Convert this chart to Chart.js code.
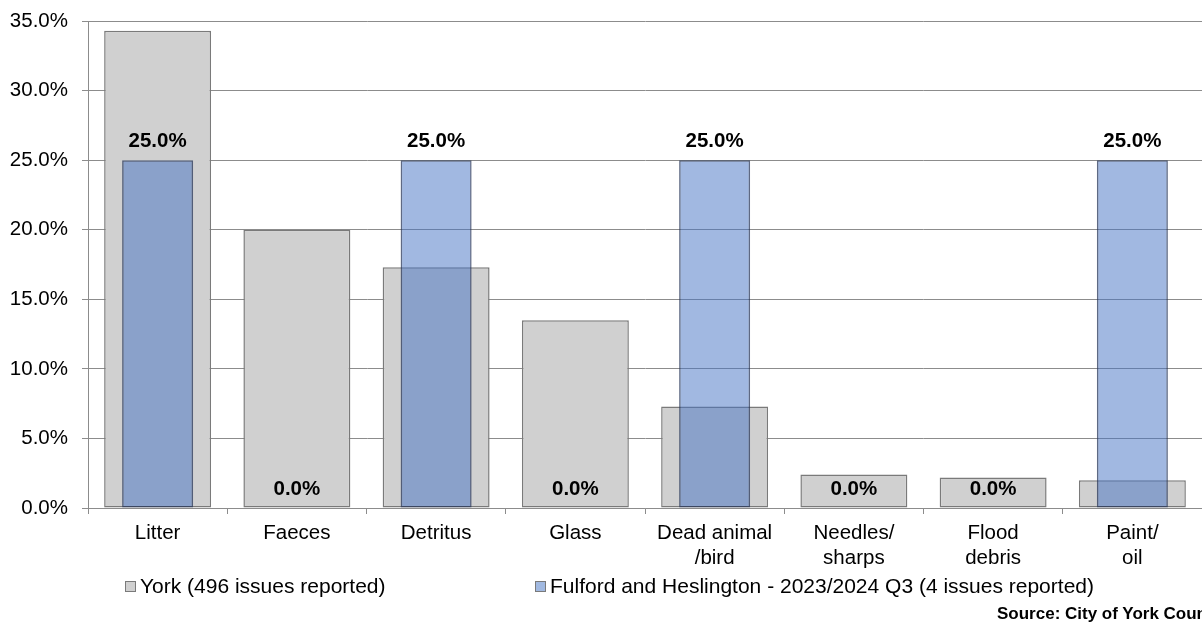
<!DOCTYPE html>
<html>
<head>
<meta charset="utf-8">
<script src="https://cdn.jsdelivr.net/npm/chart.js@4/dist/chart.umd.min.js"></script>
<style>
  html, body { margin: 0; padding: 0; background: #fff; overflow: hidden; }
  #wrap { position: relative; width: 1202px; height: 622px; overflow: hidden;
          font-family: "Liberation Sans", Arial, sans-serif; color: #000; }
  #chart { position: absolute; left: 0; top: 0; }
  .leg { position: absolute; top: 574px; font-size: 21px; line-height: 24px; white-space: nowrap; }
  .leg i { position: absolute; left: -15px; top: 7px; width: 9px; height: 9px; border: 1px solid #7a7a7a; }
  #source { position: absolute; left: 997px; top: 604px; font-size: 17px; font-weight: bold; white-space: nowrap; }
</style>
</head>
<body>
<div id="wrap">
  <canvas id="chart" width="1202" height="622"></canvas>
  <div class="leg" id="leg-york" style="left:140px"><i style="background:#d0d0d0"></i></div>
  <div class="leg" id="leg-area" style="left:550px"><i style="background:#a1b9e1"></i></div>
  <div id="source">Source: City of York Council</div>
</div>
<script>
// ── Data ──────────────────────────────────────────────────────────
const CATEGORIES = [
  "Litter", "Faeces", "Detritus", "Glass",
  ["Dead animal", "/bird"], ["Needles/", "sharps"], ["Flood", "debris"], ["Paint/", "oil"],
];
const YORK_LABEL = "York (496 issues reported)";
const AREA_LABEL = "Fulford and Heslington - 2023/2024 Q3 (4 issues reported)";
const YORK_VALUES = [34.3, 20.0, 17.3, 13.5, 7.3, 2.4, 2.2, 2.0];
const AREA_VALUES = [25.0, 0.0, 25.0, 0.0, 25.0, 0.0, 0.0, 25.0];
const Y_TICKS = [0, 5, 10, 15, 20, 25, 30, 35];

const FONT = '"Liberation Sans", Arial, sans-serif';
const GRID = "#8c8c8c";

document.getElementById("leg-york").append(YORK_LABEL);
document.getElementById("leg-area").append(AREA_LABEL);

// ── Value labels above the area bars ──────────────────────────────
const valueLabels = {
  id: "valueLabels",
  afterDraw(chart) {
    const { ctx } = chart;
    const meta = chart.getDatasetMeta(1);
    ctx.save();
    ctx.font = `bold 20.5px ${FONT}`;
    ctx.fillStyle = "#000";
    ctx.textAlign = "center";
    ctx.textBaseline = "middle";
    meta.data.forEach((bar, i) => {
      ctx.fillText(AREA_VALUES[i].toFixed(1) + "%", bar.x, bar.y - 19);
    });
    ctx.restore();
  },
};

// ── Chart ─────────────────────────────────────────────────────────
new Chart(document.getElementById("chart"), {
  type: "bar",
  data: {
    labels: CATEGORIES,
    datasets: [
      {
        label: YORK_LABEL,
        data: YORK_VALUES,
        backgroundColor: "#d0d0d0",
        borderColor: "#7a7a7a",
        borderWidth: 1.5,
        borderSkipped: false,
        grouped: false,
        categoryPercentage: 1,
        barPercentage: 0.768,
        order: 2,
      },
      {
        label: AREA_LABEL,
        data: AREA_VALUES,
        backgroundColor: "rgba(68,114,196,0.5)",
        borderColor: "rgba(40,55,90,0.75)",
        borderWidth: 1.5,
        borderSkipped: false,
        grouped: false,
        categoryPercentage: 1,
        barPercentage: 0.51,
        order: 1,
      },
    ],
  },
  options: {
    responsive: false,
    animation: false,
    layout: { padding: { left: 10, top: 21, right: 0, bottom: 0 } },
    scales: {
      x: {
        afterFit: (s) => { s.height = 114; },
        grid: { offset: true, drawOnChartArea: false, drawTicks: true, tickLength: 6, tickColor: GRID },
        border: { color: GRID },
        ticks: { color: "#000", padding: 7, font: { family: FONT, size: 20.5, lineHeight: 1.2 }, maxRotation: 0, autoSkip: false },
      },
      y: {
        z: 1,
        min: 0,
        max: 35,
        // fixed width; drop the extra top/bottom room that tick padding adds
        afterFit: (s) => { s.width = 78; s.paddingTop = 0; s.paddingBottom = 0; },
        afterBuildTicks: (s) => { s.ticks = Y_TICKS.map((v) => ({ value: v })); },
        grid: { color: GRID, tickLength: 6, tickColor: GRID },
        border: { color: GRID },
        ticks: {
          color: "#000",
          padding: 14,
          font: { family: FONT, size: 20.5 },
          callback: (v) => v.toFixed(1) + "%",
        },
      },
    },
    plugins: {
      legend: { display: false },
      tooltip: { enabled: false },
    },
  },
  plugins: [valueLabels],
});
</script>
</body>
</html>
